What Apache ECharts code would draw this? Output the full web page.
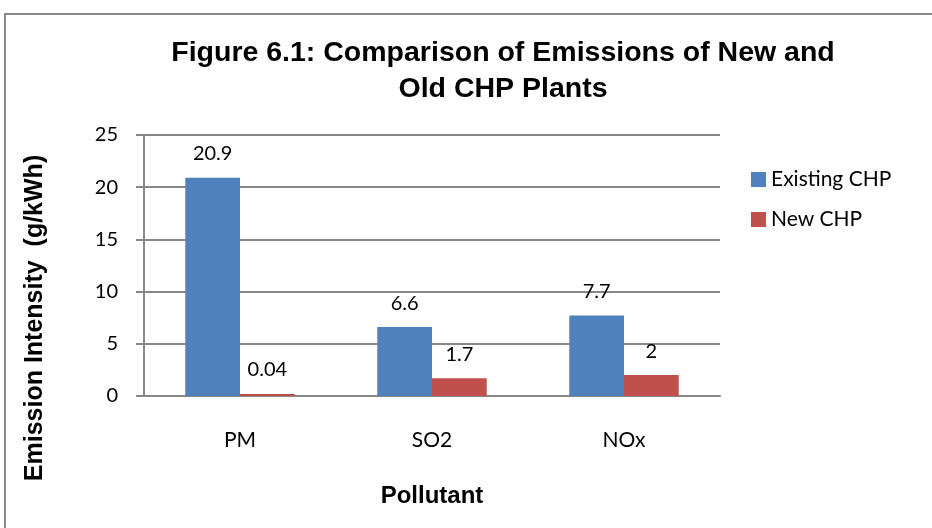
<!DOCTYPE html>
<html>
<head>
<meta charset="utf-8">
<script src="https://cdn.jsdelivr.net/npm/echarts@6/dist/echarts.min.js"></script>
<style>
  html, body { margin: 0; padding: 0; background: #fff; }
  #chart { width: 932px; height: 528px; }
</style>
</head>
<body>
<div id="chart"></div>
<script>
// chart data
const categories = ['PM', 'SO2', 'NOx']
const existingCHP = [20.9, 6.6, 7.7]
const newCHP = [0.04, 1.7, 2]
const seriesNames = ['Existing CHP', 'New CHP']

const chart = echarts.init(document.getElementById('chart'))

const labelFont = 'Lato, "Open Sans", sans-serif'
const boldFont = '"Liberation Sans", Arial, sans-serif'

const option = {
  animation: false,
  backgroundColor: '#fff',
  title: {
    text: 'Figure 6.1: Comparison of Emissions of New and\nOld CHP Plants',
    left: 498,
    top: 30,
    textAlign: 'center',
    textStyle: {
      fontFamily: boldFont,
      fontWeight: 'bold',
      fontSize: 28.5,
      lineHeight: 36,
      color: '#000'
    }
  },
  legend: {
    orient: 'vertical',
    left: 746,
    top: 164,
    itemWidth: 15,
    itemHeight: 15,
    itemGap: 19,
    icon: 'rect',
    data: seriesNames,
    textStyle: { fontFamily: labelFont, fontSize: 21, color: '#000' }
  },
  grid: {
    left: 144,
    right: 212,
    top: 135,
    bottom: 132,
    containLabel: false
  },
  xAxis: {
    type: 'category',
    data: categories,
    name: 'Pollutant',
    nameLocation: 'middle',
    nameGap: 88,
    nameTextStyle: { fontFamily: boldFont, fontWeight: 'bold', fontSize: 24, color: '#000' },
    axisLine: { lineStyle: { color: '#888', width: 2 } },
    axisTick: { show: false },
    axisLabel: { fontFamily: labelFont, fontSize: 21, color: '#000', margin: 34 }
  },
  yAxis: {
    type: 'value',
    min: 0,
    max: 25,
    interval: 5,
    axisLine: { show: true, lineStyle: { color: '#888', width: 2 } },
    axisTick: { show: true, length: 8, lineStyle: { color: '#888', width: 2 } },
    axisLabel: { fontFamily: labelFont, fontSize: 20, color: '#000', margin: 26 },
    splitLine: { lineStyle: { color: '#888', width: 2 } }
  },
  graphic: [
    {
      type: 'rect',
      shape: { x: 5, y: 14, width: 940, height: 530 },
      style: { fill: 'none', stroke: '#8a8a8a', lineWidth: 2 },
      silent: true,
      z: -1
    },
    {
      type: 'text',
      x: 35,
      y: 318,
      rotation: Math.PI / 2,
      style: {
        text: 'Emission Intensity  (g/kWh)',
        font: 'bold 25px "Liberation Sans", Arial, sans-serif',
        fill: '#000',
        align: 'center',
        verticalAlign: 'middle'
      }
    }
  ],
  series: [
    {
      name: seriesNames[0],
      type: 'bar',
      data: existingCHP,
      barGap: '0%',
      barCategoryGap: '43%',
      itemStyle: { color: '#4F81BD' },
      label: {
        show: true,
        position: 'top',
        distance: 14,
        fontFamily: labelFont,
        fontSize: 20,
        color: '#000'
      }
    },
    {
      name: seriesNames[1],
      type: 'bar',
      data: newCHP,
      barMinHeight: 2,
      itemStyle: { color: '#C0504D' },
      label: {
        show: true,
        position: 'top',
        distance: 14,
        fontFamily: labelFont,
        fontSize: 20,
        color: '#000'
      }
    }
  ]
}

chart.setOption(option)
</script>
</body>
</html>
